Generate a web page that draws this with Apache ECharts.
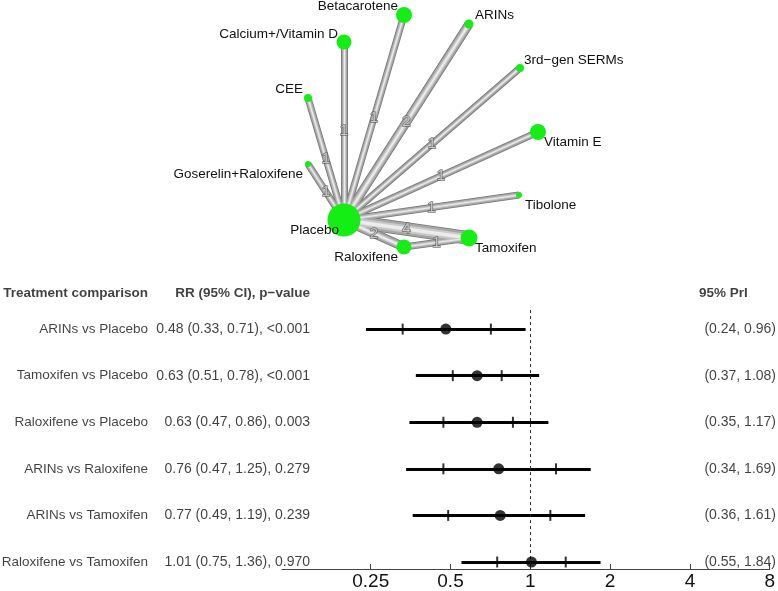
<!DOCTYPE html>
<html>
<head>
<meta charset="utf-8">
<script src="https://cdn.jsdelivr.net/npm/echarts@6/dist/echarts.min.js"></script>
<style>
  html, body { margin: 0; padding: 0; background: #fff; }
  #chart { width: 778px; height: 591px; }
</style>
</head>
<body>
<div id="chart"></div>
<script>
// network nodes (netgraph layout coordinates)
const nodeNames = ['Placebo', 'Betacarotene', 'ARINs', 'Calcium+/Vitamin D', '3rd\u2212gen SERMs', 'CEE',
  'Vitamin E', 'Goserelin+Raloxifene', 'Tibolone', 'Tamoxifen', 'Raloxifene'];
const nodeX = [344, 404, 469, 344, 520, 308, 538, 308, 519, 469, 404];
const nodeY = [220, 15, 24, 42, 68, 98, 132, 164, 195, 238, 247];
const nodeSize = [33, 16, 9, 15, 8, 8, 16, 6, 6, 17, 15];

// direct comparisons (index into nodeNames) and number of studies
const edgeFrom = [0, 0, 0, 0, 0, 0, 0, 0, 0, 0, 10];
const edgeTo = [1, 2, 3, 4, 5, 6, 7, 8, 9, 10, 9];
const edgeStudies = [1, 2, 1, 1, 1, 1, 1, 1, 4, 2, 1];

// forest plot
const comparisons = ['ARINs vs Placebo', 'Tamoxifen vs Placebo', 'Raloxifene vs Placebo',
  'ARINs vs Raloxifene', 'ARINs vs Tamoxifen', 'Raloxifene vs Tamoxifen'];
const rr = [0.48, 0.63, 0.63, 0.76, 0.77, 1.01];
const ciLow = [0.33, 0.51, 0.47, 0.47, 0.49, 0.75];
const ciHigh = [0.71, 0.78, 0.86, 1.25, 1.19, 1.36];
const pValues = ['<0.001', '<0.001', '0.003', '0.279', '0.239', '0.970'];
const priLow = [0.24, 0.37, 0.35, 0.34, 0.36, 0.55];
const priHigh = [0.96, 1.08, 1.17, 1.69, 1.61, 1.84];
const xTicks = [0.25, 0.5, 1, 2, 4, 8];

// label placement around each node: [align, dx, dy]
const nodeLabelPos = [
  ['right', -5, 10], ['right', -6, -9], ['left', 6, -9], ['right', -6, -8], ['left', 4, -8],
  ['right', -5, -9], ['left', 6, 10], ['right', -5, 10], ['left', 6, 10], ['left', 6, 10], ['right', -6, 10]
];

const FONT = "'Liberation Sans', Arial, sans-serif";
const headerRow = -0.77;
const colName = 148, colRR = 310, colPrI = 776, colPrIHead = 699;

const chart = echarts.init(document.getElementById('chart'));

const edgeCoords = edgeFrom.map((f, i) => {
  const t = edgeTo[i];
  return [[nodeX[f], nodeY[f]], [nodeX[t], nodeY[t]]];
});

// stacked strokes give the tube look of the edges
const tubeLayers = [
  { color: '#767676', w: n => 4.8 + 2.2 * n },
  { color: '#a6a6a6', w: n => 3.2 + 2.2 * n },
  { color: '#c9c9c9', w: n => 1.3 + 1.6 * n },
  { color: '#ececec', w: n => 0.4 + 0.8 * n }
];

const tubeSeries = tubeLayers.map((layer, k) => ({
  type: 'lines',
  coordinateSystem: 'cartesian2d',
  xAxisIndex: 0,
  yAxisIndex: 0,
  silent: true,
  z: 2 + k,
  lineStyle: { color: layer.color, opacity: 1, cap: 'butt' },
  data: edgeCoords.map((c, i) => ({ coords: c, lineStyle: { width: layer.w(edgeStudies[i]) } }))
}));

const edgeLabelSeries = {
  type: 'scatter',
  xAxisIndex: 0,
  yAxisIndex: 0,
  symbolSize: 0,
  z: 7,
  silent: true,
  label: {
    show: true,
    position: 'inside',
    fontFamily: FONT,
    fontSize: 15,
    color: '#dcdcdc',
    textBorderColor: '#5a5a5a',
    textBorderWidth: 1.5,
    formatter: p => String(p.data.n)
  },
  data: edgeCoords.map((c, i) => ({
    value: [(c[0][0] + c[1][0]) / 2, (c[0][1] + c[1][1]) / 2],
    n: edgeStudies[i]
  }))
};

const nodeSeries = {
  type: 'scatter',
  xAxisIndex: 0,
  yAxisIndex: 0,
  z: 8,
  clip: false,
  itemStyle: { color: '#14ee14', opacity: 1 },
  data: nodeNames.map((name, i) => ({
    value: [nodeX[i], nodeY[i]],
    symbolSize: nodeSize[i],
    label: {
      show: true,
      position: 'inside',
      align: nodeLabelPos[i][0],
      verticalAlign: 'middle',
      offset: [nodeLabelPos[i][1], nodeLabelPos[i][2]],
      formatter: name,
      fontFamily: FONT,
      fontSize: 13.5,
      color: '#111'
    }
  }))
};

// forest plot marks
const priSeries = {
  type: 'lines',
  coordinateSystem: 'cartesian2d',
  xAxisIndex: 1,
  yAxisIndex: 1,
  silent: true,
  lineStyle: { color: '#000', width: 3, opacity: 1, cap: 'butt' },
  data: comparisons.map((c, i) => ({ coords: [[priLow[i], i], [priHigh[i], i]] }))
};

const ciSeries = {
  type: 'scatter',
  xAxisIndex: 1,
  yAxisIndex: 1,
  symbol: 'rect',
  symbolSize: [2, 11],
  itemStyle: { color: '#000' },
  z: 4,
  data: comparisons.flatMap((c, i) => [[ciLow[i], i], [ciHigh[i], i]])
};

const pointSeries = {
  type: 'scatter',
  xAxisIndex: 1,
  yAxisIndex: 1,
  symbol: 'circle',
  symbolSize: 11,
  itemStyle: { color: '#000' },
  z: 5,
  data: rr.map((v, i) => [v, i]),
  markLine: {
    silent: true,
    symbol: 'none',
    label: { show: false },
    lineStyle: { color: '#333', width: 1, type: [3, 3] },
    data: [{ xAxis: 1 }]
  }
};

// table columns
function textSeries(x, pos, texts, bold, size) {
  return {
    type: 'scatter',
    xAxisIndex: 2,
    yAxisIndex: 2,
    symbolSize: 0,
    clip: false,
    silent: true,
    label: {
      show: true,
      position: pos,
      distance: 0,
      fontFamily: FONT,
      fontSize: size,
      fontWeight: bold ? 'bold' : 'normal',
      color: '#111',
      formatter: p => p.data.t
    },
    data: texts.map(t => ({ value: [x, t[1]], t: t[0] }))
  };
}

const f2 = v => v.toFixed(2);
const rrTexts = rr.map((v, i) => `${f2(v)} (${f2(ciLow[i])}, ${f2(ciHigh[i])}), ${pValues[i]}`);
const priTexts = priLow.map((v, i) => `(${f2(v)}, ${f2(priHigh[i])})`);

const tableSeries = [
  textSeries(colName, 'left', comparisons.map((c, i) => [c, i]), false, 13.5),
  textSeries(colRR, 'left', rrTexts.map((c, i) => [c, i]), false, 14),
  textSeries(colPrI, 'left', priTexts.map((c, i) => [c, i]), false, 14),
  textSeries(colName, 'left', [['Treatment comparison', headerRow]], true, 13.5),
  textSeries(colRR, 'left', [['RR (95% CI), p\u2212value', headerRow]], true, 13.5),
  textSeries(colPrIHead, 'right', [['95% PrI', headerRow]], true, 13.5)
];

const option = {
  animation: false,
  backgroundColor: '#fff',
  grid: [
    { left: 0, top: 0, width: 778, height: 270 },
    { left: 282, right: 7, top: 310, height: 259 },
    { left: 0, top: 310, width: 778, height: 259 }
  ],
  xAxis: [
    { gridIndex: 0, type: 'value', min: 0, max: 778, show: false },
    {
      gridIndex: 1,
      type: 'log',
      logBase: 2,
      min: 0.1157,
      max: 8,
      position: 'bottom',
      splitLine: { show: false },
      axisLine: { show: true, onZero: false, lineStyle: { color: '#444', width: 1 } },
      axisTick: { show: true, inside: true, length: 5, customValues: xTicks, lineStyle: { color: '#444' } },
      axisLabel: {
        customValues: xTicks,
        margin: 3,
        fontFamily: FONT,
        fontSize: 19,
        color: '#111',
        formatter: v => String(v)
      }
    },
    { gridIndex: 2, type: 'value', min: 0, max: 778, show: false }
  ],
  yAxis: [
    { gridIndex: 0, type: 'value', min: 0, max: 270, inverse: true, show: false },
    { gridIndex: 1, type: 'value', min: -0.41, max: 5.15, inverse: true, show: false },
    { gridIndex: 2, type: 'value', min: -0.41, max: 5.15, inverse: true, show: false }
  ],
  series: [
    ...tubeSeries,
    edgeLabelSeries,
    nodeSeries,
    priSeries,
    ciSeries,
    pointSeries,
    ...tableSeries
  ]
};

chart.setOption(option);
</script>
</body>
</html>
